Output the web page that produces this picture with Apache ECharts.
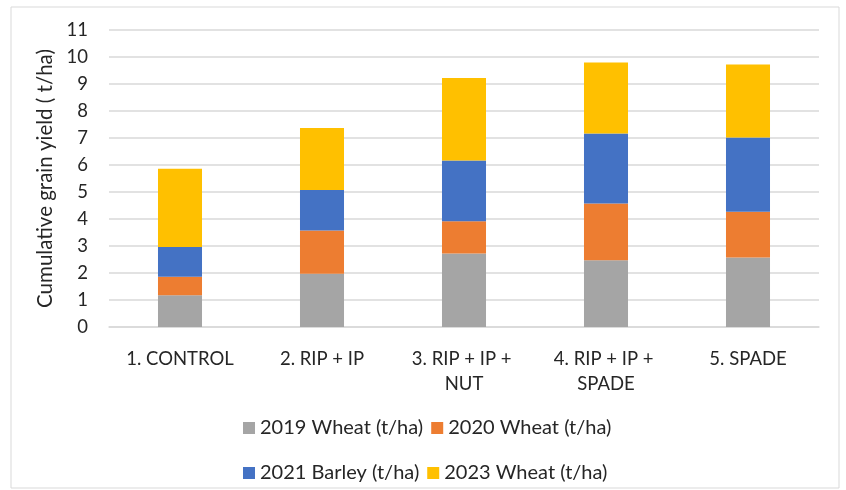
<!DOCTYPE html>
<html>
<head>
<meta charset="utf-8">
<script src="https://cdn.jsdelivr.net/npm/echarts@6/dist/echarts.min.js"></script>
<style>
  html, body { margin: 0; padding: 0; background: #fff; }
  #main { width: 846px; height: 490px; }
</style>
</head>
<body>
<div id="main"></div>
<script>
// treatments on the x axis
var categories = ['1. CONTROL', '2. RIP + IP', '3. RIP + IP + NUT', '4. RIP + IP + SPADE', '5. SPADE'];

// yield per season, t/ha (stacked)
var wheat2019 = [1.18, 1.97, 2.72, 2.47, 2.57];
var wheat2020 = [0.68, 1.60, 1.20, 2.10, 1.70];
var barley2021 = [1.10, 1.50, 2.25, 2.60, 2.75];
var wheat2023 = [2.90, 2.30, 3.05, 2.63, 2.70];

var seriesNames = ['2019 Wheat (t/ha)', '2020 Wheat (t/ha)', '2021 Barley (t/ha)', '2023 Wheat (t/ha)'];
var seriesColors = ['#A5A5A5', '#ED7D31', '#4472C4', '#FFC000'];

var yTicks = [0, 11, 1]; // min, max, step

var fontFam = 'Lato, "Liberation Sans", sans-serif';
var txtColor = '#262626';

var chart = echarts.init(document.getElementById('main'));

function makeSeries(idx, data) {
  return {
    name: seriesNames[idx],
    type: 'bar',
    stack: 'total',
    barWidth: '31%',
    itemStyle: { color: seriesColors[idx] },
    data: data
  };
}

var legendText = { fontFamily: fontFam, fontSize: 20, color: txtColor };

var option = {
  animation: false,
  backgroundColor: '#fff',
  textStyle: { fontFamily: fontFam },
  graphic: [{
    type: 'rect',
    shape: { x: 11, y: 7, width: 828, height: 481 },
    style: { fill: 'none', stroke: '#d9d9d9', lineWidth: 1 }
  }],
  grid: { left: 109, right: 27, top: 30, bottom: 163 },
  legend: [
    {
      data: [seriesNames[0], seriesNames[1]],
      left: 238, top: 413,
      itemWidth: 12, itemHeight: 12, itemGap: 8,
      icon: 'rect',
      textStyle: legendText
    },
    {
      data: [seriesNames[2], seriesNames[3]],
      left: 238, top: 458,
      itemWidth: 12, itemHeight: 12, itemGap: 8,
      icon: 'rect',
      textStyle: legendText
    }
  ],
  xAxis: {
    type: 'category',
    data: categories,
    axisLine: { lineStyle: { color: '#d9d9d9', width: 1.5 } },
    axisTick: { show: false },
    axisLabel: {
      color: txtColor,
      fontFamily: fontFam,
      fontSize: 18.5,
      margin: 20,
      lineHeight: 25,
      width: 128,
      overflow: 'break',
      interval: 0
    }
  },
  yAxis: {
    type: 'value',
    min: yTicks[0],
    max: yTicks[1],
    interval: yTicks[2],
    name: 'Cumulative grain yield ( t/ha)',
    nameLocation: 'middle',
    nameGap: 52,
    nameTextStyle: { color: txtColor, fontFamily: fontFam, fontSize: 20.5 },
    axisLine: { show: false },
    axisTick: { show: false },
    axisLabel: { color: txtColor, fontFamily: fontFam, fontSize: 18.5, margin: 21 },
    splitLine: { lineStyle: { color: '#d9d9d9', width: 1.5 } }
  },
  series: [
    makeSeries(0, wheat2019),
    makeSeries(1, wheat2020),
    makeSeries(2, barley2021),
    makeSeries(3, wheat2023)
  ]
};

chart.setOption(option);
</script>
</body>
</html>
